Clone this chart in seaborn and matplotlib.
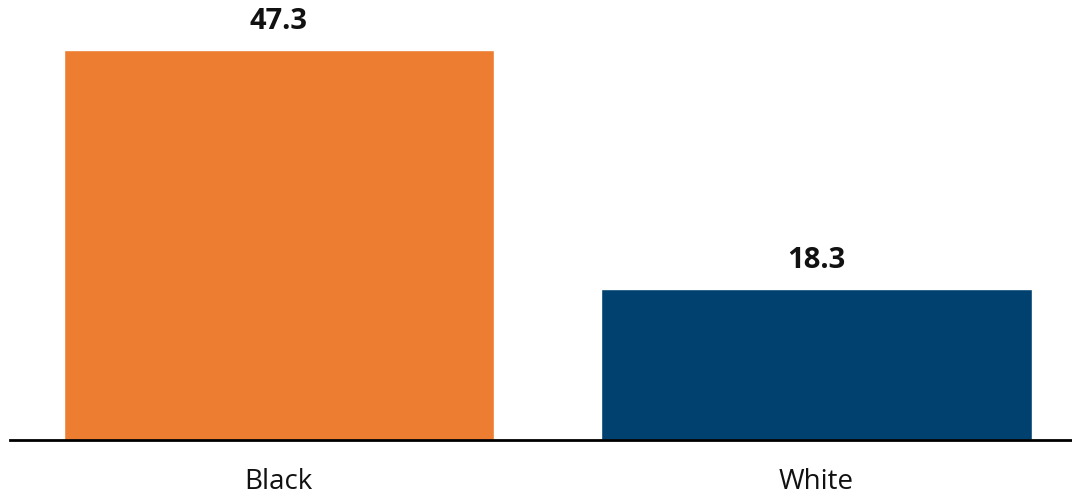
import matplotlib
matplotlib.use("Agg")
import matplotlib.pyplot as plt
import seaborn as sns
import pandas as pd

groups = ["Black", "White"]
values = [47.3, 18.3]
bar_colors = ["#ED7D31", "#00416F"]

sns.set_theme(style="white")
plt.rcParams["font.family"] = ["Open Sans", "DejaVu Sans"]

df = pd.DataFrame({"group": groups, "value": values})

fig = plt.figure(figsize=(10.72, 4.96), dpi=100)
ax = fig.add_axes([10 / 1072, 56 / 496, 1 - 10 / 1072, 412 / 496])

sns.barplot(data=df, x="group", y="value", hue="group", palette=bar_colors,
            width=0.8, saturation=1, legend=False, ax=ax)

ax.set_xlim(-0.5, 1.475)
ax.set_ylim(0, 50)

for i, v in enumerate(values):
    ax.annotate(f"{v:.1f}", xy=(i, v), xytext=(0, 10), textcoords="offset points",
                ha="center", va="bottom", fontsize=21, fontweight="bold",
                color="#111111", annotation_clip=False)

for s in ["top", "right", "left"]:
    ax.spines[s].set_visible(False)
ax.spines["bottom"].set_color("black")
ax.spines["bottom"].set_linewidth(2)

ax.set_yticks([])
ax.set_xlabel("")
ax.set_ylabel("")
ax.tick_params(axis="x", length=0, pad=20, labelsize=20, labelcolor="#111111")

fig.savefig("out.png", dpi=100)
